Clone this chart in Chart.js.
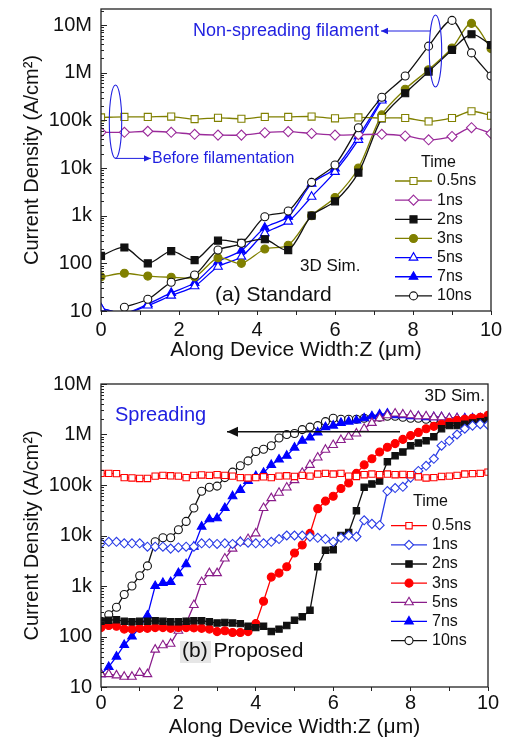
<!DOCTYPE html>
<html>
<head>
<meta charset="utf-8">
<script src="https://cdn.jsdelivr.net/npm/chart.js@4.4.0/dist/chart.umd.min.js"></script>
<style>
  html, body { margin: 0; padding: 0; background: #fff; }
  #wrap { position: relative; width: 509px; height: 740px; }
  canvas { position: absolute; left: 0; }
  #chartA { top: 0; }
  #chartB { top: 370px; }
</style>
</head>
<body>
<div id="wrap">
  <canvas id="chartA" width="509" height="370"></canvas>
  <canvas id="chartB" width="509" height="370"></canvas>
</div>
<script>
// Etiquetas comunes
const timeLabels = ['0.5ns', '1ns', '2ns', '3ns', '5ns', '7ns', '10ns'];
const yTickLabels = ['10', '100', '1k', '10k', '100k', '1M', '10M'];

// Panel (a) Standard: posicion Z (um) y densidad de corriente (A/cm2)
const zA = [0, 0.6, 1.2, 1.8, 2.4, 3, 3.6, 4.2, 4.8, 5.4, 6, 6.6, 7.2, 7.8, 8.4, 9, 9.5, 10];
const a05 = [115e3, 118e3, 118e3, 120e3, 106e3, 113e3, 108e3, 118e3, 118e3, 120e3, 110e3, 115e3, 112e3, 112e3, 95e3, 112e3, 155e3, 125e3];
const a1 = [56e3, 56e3, 59e3, 56e3, 51e3, 49e3, 49e3, 55e3, 58e3, 53e3, 49e3, 50e3, 51e3, 47e3, 39e3, 46e3, 70e3, 53e3];
const a2 = [143, 215, 100, 180, 117, 300, 270, 320, 190, 1000, 2000, 8000, 110e3, 370e3, 1.05e6, 3.0e6, 6.4e6, 3.8e6];
const a3 = [52, 62, 54, 51, 52, 130, 100, 200, 240, 1000, 2400, 10e3, 130e3, 450e3, 1.15e6, 3.3e6, 10.8e6, 3.2e6];
const a5 = [11.4, 9, 13, 21, 33, 85, 138, 427, 750, 2500, 8300, 39e3, 260e3, null, null, null, null, null];
const a7 = [11.4, 9, 14, 24, 39, 108, 185, 560, 950, 4700, 9800, 46e3, 280e3, null, null, null, null, null];
const a10 = [null, 12, 17.6, 40, 57, 190, 263, 950, 1250, 5000, 11.6e3, 70e3, 304e3, 850e3, 3.6e6, 12.5e6, 2.6e6, 850e3];

// Panel (b) Proposed
const zB = [0, 0.2, 0.4, 0.6, 0.8, 1, 1.2, 1.4, 1.6, 1.8, 2, 2.2, 2.4, 2.6, 2.8, 3, 3.2, 3.4, 3.6, 3.8,
  4, 4.2, 4.4, 4.6, 4.8, 5, 5.2, 5.4, 5.6, 5.8, 6, 6.2, 6.4, 6.6, 6.8, 7, 7.2, 7.4, 7.6, 7.8,
  8, 8.2, 8.4, 8.6, 8.8, 9, 9.2, 9.4, 9.6, 9.8, 10];
const b05 = [170e3, 170e3, 168e3, 140e3, 138e3, 135e3, 135e3, 150e3, 155e3, 152e3,
  150e3, 140e3, 155e3, 158e3, 155e3, 160e3, 155e3, 150e3, 140e3, 138e3,
  140e3, 145e3, 140e3, 150e3, 152e3, 148e3, 155e3, 150e3, 165e3, 170e3,
  165e3, 170e3, 150e3, 148e3, 160e3, 165e3, 160e3, 165e3, 160e3, 162e3,
  160e3, 145e3, 138e3, 140e3, 148e3, 150e3, 155e3, 165e3, 168e3, 170e3, 180e3];
const b1 = [7e3, 7.5e3, 7.5e3, 7e3, 7e3, 7e3, 6e3, 6e3, 6e3, 5.5e3,
  5.8e3, 6e3, 6e3, 7e3, 7e3, 6.8e3, 7e3, 6.8e3, 7.5e3, 7.2e3,
  7e3, 7e3, 7.5e3, 8.5e3, 10e3, 10e3, 10e3, 9.5e3, 9e3, 8.5e3,
  7.5e3, 9e3, 10e3, 9.5e3, 20e3, 17e3, 16e3, 76e3, 87e3, 92e3,
  140e3, 190e3, 240e3, 330e3, 600e3, 750e3, 1.0e6, 1.3e6, 1.5e6, 1.6e6, 1.55e6];
const b2 = [200, 210, 215, 200, 195, 200, 200, 205, 200, 195,
  195, 200, 205, 205, 195, 185, 190, 185, 180, 160,
  150, 160, 125, 140, 165, 210, 245, 330, 2.4e3, 5.1e3,
  5.2e3, 10e3, 11.5e3, 31e3, 90e3, 105e3, 120e3, 290e3, 380e3, 450e3,
  600e3, 680e3, 750e3, 900e3, 1.3e6, 1.5e6, 1.5e6, 1.6e6, 1.7e6, 1.8e6, 1.9e6];
const b3 = [150, 165, 160, 140, 140, 145, 145, 150, 150, 145,
  150, 150, 148, 145, 140, 125, 130, 120, 120, 125,
  180, 500, 1.5e3, 1.8e3, 2.4e3, 4.5e3, 6.5e3, 11e3, 34e3, 48e3,
  60e3, 85e3, 110e3, 170e3, 250e3, 330e3, 450e3, 560e3, 660e3, 800e3,
  950e3, 1.1e6, 1.3e6, 1.45e6, 1.6e6, 1.75e6, 1.9e6, 2.0e6, 2.1e6, 2.2e6, 2.4e6];
const b5 = [18, 18, 17, 16, 16, 19, 18, 55, 67, 72,
  130, 182, 420, 1.2e3, 1.8e3, 1.8e3, 3.5e3, 5.5e3, 7.5e3, 8.5e3,
  11e3, 35e3, 55e3, 70e3, 89e3, 125e3, 175e3, 250e3, 350e3, 500e3,
  620e3, 780e3, 900e3, 1.05e6, 1.3e6, 1.7e6, 2.1e6, 2.4e6, 2.6e6, 2.5e6,
  2.4e6, 2.3e6, 2.3e6, 2.2e6, 2.2e6, 2.1e6, 2.1e6, 2.0e6, 2.0e6, 2.1e6, 2.2e6];
const b7 = [18, 25, 40, 68, 100, 150, 260, 1.0e3, 1.15e3, 1.2e3,
  1.8e3, 2.7e3, 6e3, 15e3, 21e3, 22e3, 35e3, 60e3, 80e3, 120e3,
  150e3, 175e3, 250e3, 320e3, 380e3, 550e3, 750e3, 870e3, 1.1e6, 1.4e6,
  1.5e6, 1.7e6, 1.8e6, 1.9e6, 2.1e6, 2.3e6, 2.5e6, 2.6e6, 2.4e6, 2.4e6,
  2.3e6, 2.3e6, 2.2e6, 2.2e6, 2.2e6, 2.1e6, 2.1e6, 2.1e6, 2.1e6, 2.1e6, 2.1e6];
const b10 = [200, 270, 380, 680, 1.0e3, 1.6e3, 2.5e3, 7.5e3, 9e3, 9e3,
  13e3, 19e3, 35e3, 75e3, 90e3, 95e3, 140e3, 180e3, 240e3, 300e3,
  460e3, 510e3, 600e3, 850e3, 1.0e6, 1.05e6, 1.25e6, 1.4e6, 1.5e6, 1.8e6,
  2.1e6, 2.0e6, 2.0e6, 2.0e6, 2.1e6, 2.1e6, 2.2e6, 2.3e6, 2.3e6, 2.2e6,
  2.1e6, 2.1e6, 2.0e6, 2.0e6, 1.9e6, 1.9e6, 1.9e6, 1.8e6, 1.8e6, 1.8e6, 1.8e6];

const FONT = "'Liberation Sans', Arial, sans-serif";
Chart.defaults.font.family = FONT;
Chart.defaults.color = '#111';

// Convertir arrays a puntos {x, y}
const toPoints = (zs, vals) => zs.map((z, i) => ({ x: z, y: vals[i] }));

// Crear un dataset con su estilo
const serie = (label, zs, vals, color, style, filled, radius, tension) => ({
  label,
  data: toPoints(zs, vals),
  borderColor: color,
  backgroundColor: color,
  pointBackgroundColor: filled ? color : '#fff',
  pointBorderColor: color,
  pointStyle: style,
  pointRadius: radius,
  pointHoverRadius: radius,
  pointBorderWidth: 1.1,
  borderWidth: 1.3,
  tension,
  fill: false
});

// Dibujar un marcador simple en el canvas
function drawMarker(ctx, style, x, y, r) {
  ctx.beginPath();
  if (style === 'rect') {
    const s = r * Math.SQRT1_2;
    ctx.rect(x - s, y - s, 2 * s, 2 * s);
  } else if (style === 'rectRot') {
    ctx.moveTo(x, y - r); ctx.lineTo(x + r, y); ctx.lineTo(x, y + r); ctx.lineTo(x - r, y); ctx.closePath();
  } else if (style === 'triangle') {
    ctx.moveTo(x, y - r);
    ctx.lineTo(x + r * 0.866, y + r * 0.5);
    ctx.lineTo(x - r * 0.866, y + r * 0.5);
    ctx.closePath();
  } else {
    ctx.arc(x, y, r, 0, Math.PI * 2);
  }
  ctx.fill();
  ctx.stroke();
}

function arrow(ctx, a) {
  ctx.strokeStyle = a.color; ctx.fillStyle = a.color; ctx.lineWidth = a.width || 1;
  ctx.beginPath(); ctx.moveTo(a.x1, a.y1); ctx.lineTo(a.x2, a.y2); ctx.stroke();
  const ang = Math.atan2(a.y2 - a.y1, a.x2 - a.x1);
  const L = a.head, W = a.head * 0.45;
  ctx.beginPath();
  ctx.moveTo(a.x2, a.y2);
  ctx.lineTo(a.x2 - L * Math.cos(ang) + W * Math.sin(ang), a.y2 - L * Math.sin(ang) - W * Math.cos(ang));
  ctx.lineTo(a.x2 - L * Math.cos(ang) - W * Math.sin(ang), a.y2 - L * Math.sin(ang) + W * Math.cos(ang));
  ctx.closePath(); ctx.fill();
}

// Plugin: marco, ticks interiores, anotaciones y leyenda
const decor = {
  id: 'decor',
  afterDatasetsDraw(chart, args, opts) {
    const { ctx, chartArea: ca } = chart;
    const ys = chart.scales.y;
    ctx.save();
    // ticks menores y mayores hacia dentro
    ctx.strokeStyle = '#222'; ctx.lineWidth = 1;
    for (let e = 1; e <= 7; e++) {
      for (let m = 1; m <= 9; m++) {
        const v = m * Math.pow(10, e);
        if (v > ys.max) break;
        const py = Math.round(ys.getPixelForValue(v)) + 0.5;
        ctx.beginPath(); ctx.moveTo(ca.left, py); ctx.lineTo(ca.left + (m === 1 ? 6 : 3), py); ctx.stroke();
      }
    }
    ctx.lineWidth = 1.3;
    ctx.strokeRect(ca.left, ca.top, ca.right - ca.left, ca.bottom - ca.top);

    (opts.boxes || []).forEach(b => { ctx.fillStyle = b.color; ctx.fillRect(b.x, b.y, b.w, b.h); });
    (opts.ellipses || []).forEach(el => {
      ctx.strokeStyle = el.color; ctx.lineWidth = 1.1;
      ctx.beginPath(); ctx.ellipse(el.cx, el.cy, el.rx, el.ry, 0, 0, Math.PI * 2); ctx.stroke();
    });
    (opts.arrows || []).forEach(a => arrow(ctx, a));
    ctx.textBaseline = 'middle';
    (opts.texts || []).forEach(t => {
      ctx.font = t.size + 'px ' + FONT;
      ctx.fillStyle = t.color;
      ctx.textAlign = t.align || 'left';
      ctx.fillText(t.t, t.x, t.y);
    });

    // leyenda
    const lg = opts.legend;
    if (lg) {
      ctx.font = lg.size + 'px ' + FONT;
      ctx.fillStyle = '#111'; ctx.textAlign = 'left';
      ctx.fillText('Time', lg.titleX, lg.titleY);
      chart.data.datasets.forEach((ds, i) => {
        const y = lg.y0 + i * lg.dy;
        ctx.strokeStyle = ds.borderColor; ctx.lineWidth = 1.3;
        ctx.beginPath(); ctx.moveTo(lg.x1, y); ctx.lineTo(lg.x2, y); ctx.stroke();
        ctx.fillStyle = ds.pointBackgroundColor; ctx.lineWidth = 1.1;
        drawMarker(ctx, ds.pointStyle, (lg.x1 + lg.x2) / 2, y, ds.pointRadius);
        ctx.fillStyle = '#111';
        ctx.fillText(ds.label, lg.tx, y);
      });
    }
    ctx.restore();
  }
};

// Opciones de ejes comunes
const makeScales = (ymax, xh, xtPad, xtitlePad) => ({
  x: {
    type: 'linear', min: 0, max: 10,
    afterFit: (s) => { s.height = xh; },
    ticks: { stepSize: 1, padding: xtPad, font: { size: 20 }, color: '#111',
      callback: (v) => (v % 2 === 0 ? String(v) : '') },
    grid: { display: true, drawOnChartArea: false, drawTicks: true, tickLength: 4, tickColor: '#222' },
    border: { display: false },
    title: { display: true, text: 'Along Device Width:Z (\u03bcm)', font: { size: 21 }, color: '#111',
      padding: { top: 0, bottom: xtitlePad } }
  },
  y: {
    type: 'logarithmic', min: 10, max: ymax,
    afterFit: (s) => { s.width = 101; },
    ticks: { autoSkip: false, padding: 0, font: { size: 20, lineHeight: 0.85 }, color: '#111',
      callback: (v) => {
        const e = Math.log10(v);
        return Math.abs(e - Math.round(e)) < 1e-9 ? yTickLabels[Math.round(e) - 1] : '';
      } },
    grid: { display: true, drawOnChartArea: false, drawTicks: true, tickLength: 9, tickColor: 'rgba(0,0,0,0)' },
    border: { display: false },
    title: { display: true, text: 'Current Density (A/cm\u00b2)', font: { size: 20 }, color: '#111',
      padding: { top: 20, bottom: 0 } }
  }
});

const olive = '#808000', purpleA = '#9a2a9a', blue = '#0000ff', black = '#111';
const red = '#ff0000', blueB = '#2a3ce6', purpleB = '#8a1c8a';
const annBlue = '#1f1fe0';

new Chart(document.getElementById('chartA'), {
  type: 'line',
  data: {
    datasets: [
      serie(timeLabels[0], zA, a05, olive, 'rect', false, 5, 0.3),
      serie(timeLabels[1], zA, a1, purpleA, 'rectRot', false, 5, 0.3),
      serie(timeLabels[2], zA, a2, black, 'rect', true, 5, 0.3),
      serie(timeLabels[3], zA, a3, olive, 'circle', true, 4, 0.3),
      serie(timeLabels[4], zA, a5, blue, 'triangle', false, 5, 0.3),
      serie(timeLabels[5], zA, a7, blue, 'triangle', true, 5, 0.3),
      serie(timeLabels[6], zA, a10, black, 'circle', false, 4, 0.3)
    ].map((d, i) => Object.assign(d, { order: i === 6 ? 0 : 1 }))
  },
  options: {
    responsive: false, animation: false, devicePixelRatio: 1,
    layout: { padding: { left: 0, right: 18, top: 9, bottom: 0 } },
    scales: makeScales(2.166e7, 59, 3, 7),
    plugins: {
      legend: { display: false }, tooltip: { enabled: false },
      decor: {
        ellipses: [
          { cx: 435.5, cy: 51, rx: 6.2, ry: 36, color: annBlue },
          { cx: 115.5, cy: 121.7, rx: 6.2, ry: 36.7, color: annBlue }
        ],
        arrows: [
          { x1: 430, y1: 31, x2: 381, y2: 31, head: 7, color: annBlue, width: 1 },
          { x1: 115.5, y1: 158.4, x2: 151, y2: 158.4, head: 7, color: annBlue, width: 1 }
        ],
        texts: [
          { t: 'Non-spreading filament', x: 193, y: 31, size: 18, color: annBlue },
          { t: 'Before filamentation', x: 152, y: 158.4, size: 16, color: annBlue },
          { t: '3D Sim.', x: 300, y: 266, size: 17, color: '#111' },
          { t: '(a) Standard', x: 215, y: 295, size: 21, color: '#111' }
        ],
        legend: { x1: 395, x2: 432, tx: 437, titleX: 421, titleY: 163, y0: 181, dy: 19.15, size: 16 }
      }
    }
  },
  plugins: [decor]
});

new Chart(document.getElementById('chartB'), {
  type: 'line',
  data: {
    datasets: [
      serie(timeLabels[0], zB, b05, red, 'rect', false, 4.5, 0),
      serie(timeLabels[1], zB, b1, blueB, 'rectRot', false, 4.5, 0),
      serie(timeLabels[2], zB, b2, black, 'rect', true, 4.5, 0),
      serie(timeLabels[3], zB, b3, red, 'circle', true, 4, 0),
      serie(timeLabels[4], zB, b5, purpleB, 'triangle', false, 5, 0),
      serie(timeLabels[5], zB, b7, blue, 'triangle', true, 5, 0),
      serie(timeLabels[6], zB, b10, black, 'circle', false, 4, 0)
    ]
  },
  options: {
    responsive: false, animation: false, devicePixelRatio: 1,
    layout: { padding: { left: 0, right: 21, top: 14, bottom: 0 } },
    scales: makeScales(1e7, 53, 0, 0),
    plugins: {
      legend: { display: false }, tooltip: { enabled: false },
      decor: {
        boxes: [{ x: 180, y: 271, w: 31, h: 22, color: '#e6e6e6' }],
        arrows: [{ x1: 400, y1: 61.7, x2: 227, y2: 61.7, head: 11, color: '#111', width: 1.6 }],
        texts: [
          { t: 'Spreading', x: 115, y: 45.7, size: 20, color: annBlue },
          { t: '3D Sim.', x: 485, y: 26.7, size: 17, color: '#111', align: 'right' },
          { t: '(b) Proposed', x: 182, y: 281.7, size: 21, color: '#111' }
        ],
        legend: { x1: 391, x2: 427, tx: 432, titleX: 413, titleY: 131.7, y0: 155.7, dy: 19.15, size: 16 }
      }
    }
  },
  plugins: [decor]
});
</script>
</body>
</html>
